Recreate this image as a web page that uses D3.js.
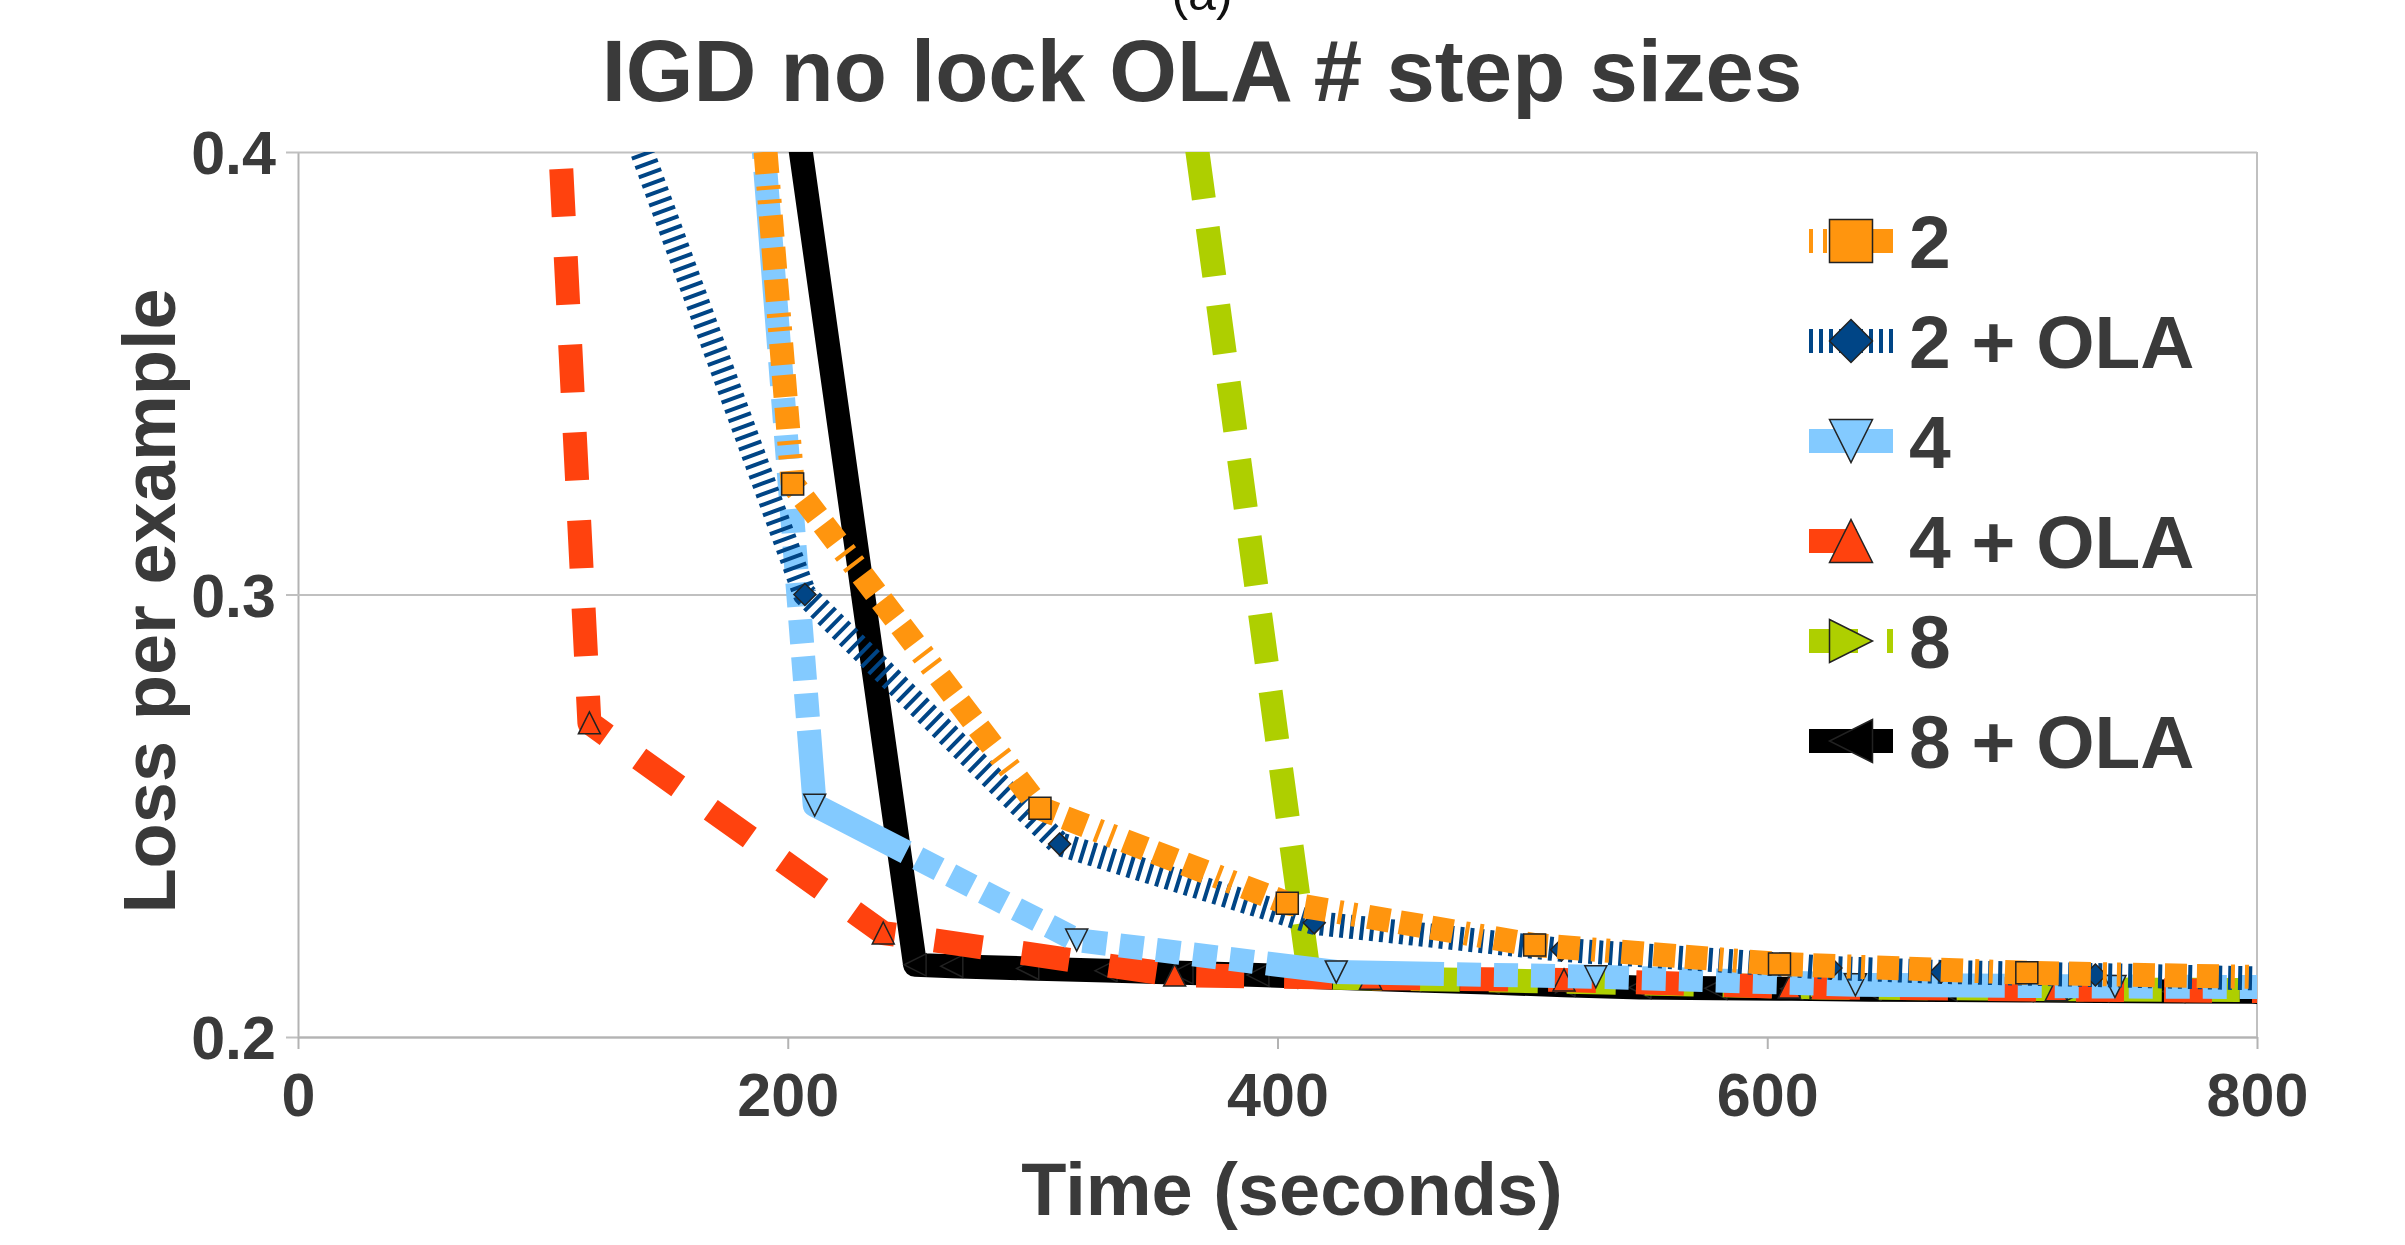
<!DOCTYPE html>
<html>
<head>
<meta charset="utf-8">
<script src="https://cdn.jsdelivr.net/npm/d3@7"></script>
<style>
html, body { margin: 0; padding: 0; background: #fff; overflow: hidden; }
svg text { font-family: "Liberation Sans", Arial, sans-serif; font-weight: bold; fill: #3a3a3a; }
</style>
</head>
<body>
<div class="chart"></div>
<script>
// data: time (seconds) and loss per example for each run
var seriesNames = ["2", "2 + OLA", "4", "4 + OLA", "8", "8 + OLA"];

var time2 = [101, 202, 303, 404, 505, 605, 706, 807];
var loss2 = [1.01, 0.325, 0.2517, 0.2302, 0.2208, 0.2165, 0.2145, 0.2135];

var time2ola = [104, 207, 311, 415, 516, 626, 671, 734, 838];
var loss2ola = [0.455, 0.300, 0.2436, 0.2258, 0.2197, 0.2156, 0.2147, 0.2140, 0.2128];

var time4 = [106, 211, 318, 424, 530, 636, 742, 848];
var loss4 = [1.0, 0.2524, 0.2219, 0.2147, 0.2136, 0.2118, 0.2114, 0.2112];

var time4ola = [60, 119, 239, 358, 438, 517, 609, 718, 827];
var loss4ola = [0.914, 0.2710, 0.2235, 0.2140, 0.2133, 0.2129, 0.2113, 0.2107, 0.2103];

var time8 = [309, 413, 518, 622, 727, 831];
var loss8 = [0.638, 0.2135, 0.2125, 0.2112, 0.2108, 0.2105];

var time8ola = [150, 252, 267, 298, 330, 361, 392, 423, 454, 486, 517, 548, 579, 610, 642, 673, 704, 735, 766, 798, 829];
var loss8ola = [0.618, 0.2163, 0.2160, 0.2155, 0.2150, 0.2145, 0.2140, 0.2134, 0.2128, 0.2123, 0.2117, 0.2112, 0.2110, 0.2109, 0.2107, 0.2106, 0.2105, 0.2104, 0.2103, 0.2102, 0.2101];

var xTicks = [0, 200, 400, 600, 800];
var yTicks = [0.2, 0.3, 0.4];

// styles
var colors = ["#ff950e", "#004586", "#83caff", "#ff420e", "#aecf00", "#000000"];
var markers = ["square", "diamond", "down", "up", "right", "left"];
var dashes = [
  [22, 10, 22, 10, 22, 12, 4, 10, 4, 12],
  [4, 6],
  [178, 13, 24, 13, 24, 13, 24, 13, 24, 13, 24, 13, 24, 13, 24, 13, 24, 13, 24, 13, 24, 13],
  [48, 40],
  [49, 29],
  null
];
var dashPhaseTime = [437, null, 395.5, 260, 371.5, null];
var legendDashOffset = [98, 0, 0, 0, 0, 0];

var allTimes = [time2, time2ola, time4, time4ola, time8, time8ola];
var allLoss = [loss2, loss2ola, loss4, loss4ola, loss8, loss8ola];

var svgWidth = 2405, svgHeight = 1245;
var margin = {top: 152, right: 148, bottom: 208, left: 298};
var width = svgWidth - margin.left - margin.right;
var height = svgHeight - margin.top - margin.bottom;

var svg = d3.select(".chart").append("svg")
  .attr("width", svgWidth)
  .attr("height", svgHeight);

var xScale = d3.scaleLinear().domain([0, 800]).range([0, width]);
var yScale = d3.scaleLinear().domain([0.2, 0.4]).range([height, 0]);

function markerPath(type, s) {
  var h = s / 2;
  if (type == "square") return "M" + (-h) + "," + (-h) + "h" + s + "v" + s + "h" + (-s) + "Z";
  if (type == "diamond") return "M0," + (-h) + "L" + h + ",0L0," + h + "L" + (-h) + ",0Z";
  if (type == "down") return "M" + (-h) + "," + (-h) + "L" + h + "," + (-h) + "L0," + h + "Z";
  if (type == "up") return "M0," + (-h) + "L" + h + "," + h + "L" + (-h) + "," + h + "Z";
  if (type == "right") return "M" + (-h) + "," + (-h) + "L" + h + ",0L" + (-h) + "," + h + "Z";
  return "M" + h + "," + (-h) + "L" + (-h) + ",0L" + h + "," + h + "Z";
}

// (a) label, mostly cut off at the top like the source figure
svg.append("text")
  .attr("x", 1202).attr("y", 10)
  .attr("text-anchor", "middle")
  .style("font-weight", "normal").style("fill", "#111")
  .style("font-size", "50px")
  .text("(a)");

// title
svg.append("text")
  .attr("x", 1202).attr("y", 101)
  .attr("text-anchor", "middle")
  .style("font-size", "87px")
  .text("IGD no lock OLA # step sizes");

var chartGroup = svg.append("g")
  .attr("transform", `translate(${margin.left}, ${margin.top})`);

chartGroup.append("clipPath").attr("id", "plotClip")
  .append("rect").attr("x", 0).attr("y", 0).attr("width", width).attr("height", height);

// y axis with gridlines
var yAxis = chartGroup.append("g")
  .call(d3.axisLeft(yScale).tickValues(yTicks).tickSize(-width).tickSizeOuter(0).tickFormat(d3.format(".1f")));
yAxis.select(".domain").attr("stroke", "#b3b3b3").attr("stroke-width", 2);
yAxis.selectAll(".tick line").attr("x1", -12).attr("stroke", "#c0c0c0").attr("stroke-width", 2);
yAxis.selectAll(".tick text")
  .attr("x", -22).attr("dy", "0.36em")
  .style("font-size", "61px").style("font-family", "'Liberation Sans', Arial, sans-serif");

// right border
chartGroup.append("line")
  .attr("x1", width).attr("x2", width).attr("y1", 0).attr("y2", height)
  .attr("stroke", "#c0c0c0").attr("stroke-width", 2);

// x axis
var xAxis = chartGroup.append("g")
  .attr("transform", `translate(0, ${height})`)
  .call(d3.axisBottom(xScale).tickValues(xTicks).tickSize(12).tickSizeOuter(0).tickFormat(d3.format("d")));
xAxis.select(".domain").attr("stroke", "#b3b3b3").attr("stroke-width", 2);
xAxis.selectAll(".tick line").attr("stroke", "#b3b3b3").attr("stroke-width", 2);
xAxis.selectAll(".tick text")
  .attr("y", 79).attr("dy", null)
  .style("font-size", "61px").style("font-family", "'Liberation Sans', Arial, sans-serif");

// axis titles
svg.append("text")
  .attr("x", 1292).attr("y", 1215)
  .attr("text-anchor", "middle")
  .style("font-size", "74px")
  .text("Time (seconds)");

svg.append("text")
  .attr("transform", "translate(175, 601) rotate(-90)")
  .attr("text-anchor", "middle")
  .style("font-size", "74px")
  .text("Loss per example");

// lines
var line = d3.line()
  .x(d => xScale(d.t))
  .y(d => yScale(d.v));

function lengthTo(pts, tStop) {
  var len = 0;
  for (var i = 1; i < pts.length; i++) {
    var x0 = xScale(pts[i - 1].t), y0 = yScale(pts[i - 1].v);
    var x1 = xScale(pts[i].t), y1 = yScale(pts[i].v);
    var seg = Math.hypot(x1 - x0, y1 - y0);
    if (pts[i].t >= tStop) {
      return len + seg * (tStop - pts[i - 1].t) / (pts[i].t - pts[i - 1].t);
    }
    len += seg;
  }
  return len;
}

var plot = chartGroup.append("g").attr("clip-path", "url(#plotClip)");

// draw last legend entry first so "2" ends on top
for (var k = seriesNames.length - 1; k >= 0; k--) {
  var pts = allTimes[k].map((t, i) => ({t: t, v: allLoss[k][i]}));
  var path = plot.append("path")
    .attr("d", line(pts))
    .attr("fill", "none")
    .attr("stroke", colors[k])
    .attr("stroke-width", 24)
    .attr("stroke-linejoin", "round")
    .attr("stroke-linecap", "butt");
  if (dashes[k]) {
    path.attr("stroke-dasharray", dashes[k].join(","));
    if (dashPhaseTime[k] != null) {
      path.attr("stroke-dashoffset", -lengthTo(pts, dashPhaseTime[k]));
    }
  }
  plot.append("g").selectAll("path")
    .data(pts)
    .enter()
    .append("path")
    .attr("transform", d => `translate(${xScale(d.t)}, ${yScale(d.v)})`)
    .attr("d", markerPath(markers[k], 22))
    .attr("fill", colors[k])
    .attr("stroke", "#222")
    .attr("stroke-width", 1.5);
}

// legend
var legend = svg.append("g").attr("transform", "translate(1809, 241)");
seriesNames.forEach(function(name, k) {
  var row = legend.append("g").attr("transform", `translate(0, ${k * 100})`);
  var ln = row.append("line")
    .attr("x1", 0).attr("x2", 84).attr("y1", 0).attr("y2", 0)
    .attr("stroke", colors[k]).attr("stroke-width", 24);
  if (dashes[k]) {
    ln.attr("stroke-dasharray", dashes[k].join(",")).attr("stroke-dashoffset", legendDashOffset[k]);
  }
  row.append("path")
    .attr("transform", "translate(42, 0)")
    .attr("d", markerPath(markers[k], 43))
    .attr("fill", colors[k])
    .attr("stroke", "#222")
    .attr("stroke-width", 1.5);
  row.append("text")
    .attr("x", 100).attr("y", 27)
    .style("font-size", "75px")
    .text(name);
});
</script>
</body>
</html>
